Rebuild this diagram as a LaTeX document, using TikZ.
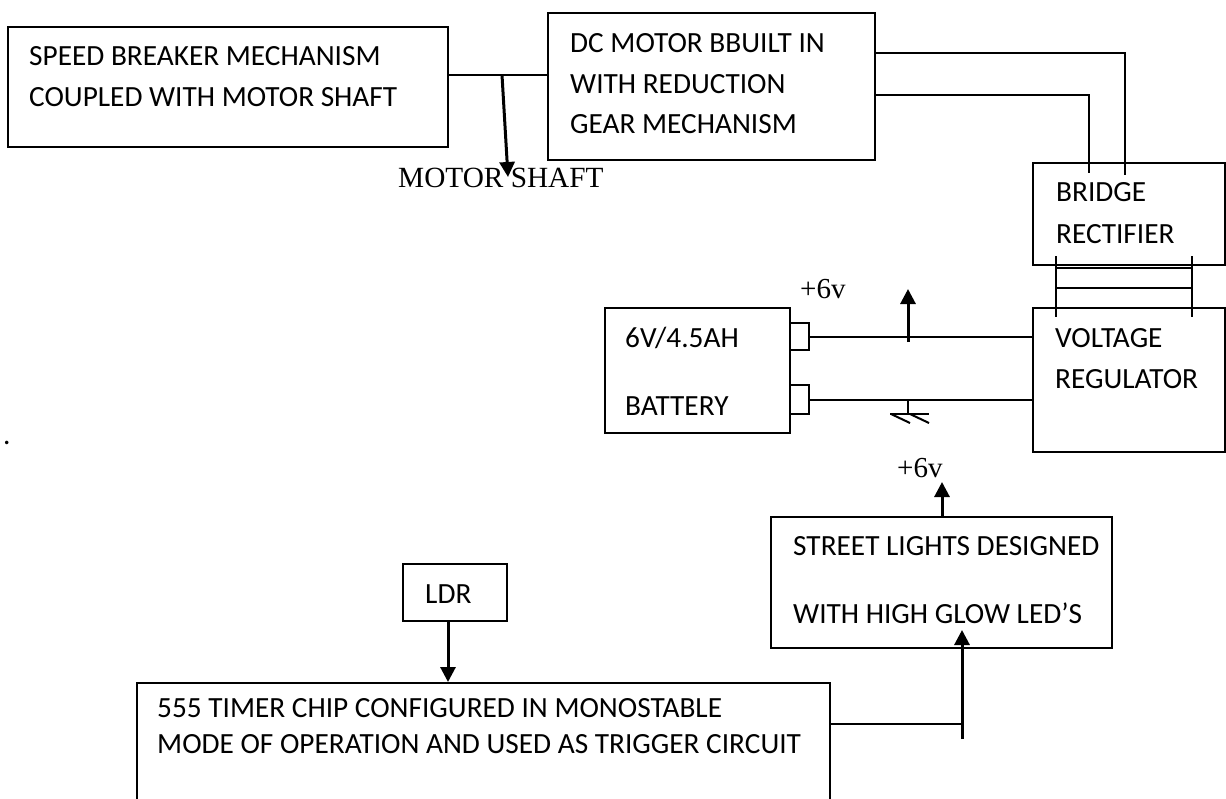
\documentclass[tikz,border=0pt]{standalone}
\usepackage{fontspec}
\setmainfont{Carlito}
\newfontfamily\timesfont{Liberation Serif}
\usetikzlibrary{arrows.meta,calc}

\begin{document}
\begin{tikzpicture}[x=1pt,y=-1pt,
  blk/.style={draw,line width=2pt,inner sep=0pt,rectangle},
  lbl/.style={anchor=base west,inner sep=0pt,font=\fontsize{29.3}{35}\selectfont},
  vlbl/.style={anchor=base west,inner sep=0pt,font=\timesfont\fontsize{29}{32}\selectfont},
  wire/.style={line width=2pt},
  sig/.style={line width=3pt,-{Triangle[width=15pt,length=15pt]}}]
  \useasboundingbox (0,0) rectangle (1226,798);
  \clip (0,0) rectangle (1226,798);

  % Speed breaker and motor
  \node[blk,minimum width=440pt,minimum height=120pt] (brk) at (228,87) {};
  \node[lbl] (brk1) at (29,65) {SPEED BREAKER MECHANISM};
  \node[lbl] (brk2) at (29,106) {COUPLED WITH MOTOR SHAFT};
  \node[blk,minimum width=327pt,minimum height=147pt] (motor) at (711.5,86.5) {};
  \node[lbl] (motor1) at (570,52) {DC MOTOR BBUILT IN};
  \node[lbl] (motor2) at (570,93) {WITH REDUCTION};
  \node[lbl] (motor3) at (570,133) {GEAR MECHANISM};

  % Shaft
  \node[vlbl,font=\timesfont\fontsize{29.3}{32}\selectfont] (shaft) at (398,187) {MOTOR SHAFT};
  \coordinate (shj) at (502,75);
  \coordinate (sht) at (508,177);
  \draw[wire] (brk.east |- shj) -- (motor.west |- shj);
  \draw[sig] (shj) -- (sht);

  % Rectifier and regulator
  \node[blk,minimum width=192pt,minimum height=102pt] (rect) at (1129,214) {};
  \node[lbl] (rect1) at (1056,201) {BRIDGE};
  \node[lbl] (rect2) at (1056,243) {RECTIFIER};
  \node[blk,minimum width=192pt,minimum height=144pt] (reg) at (1129,380) {};
  \node[lbl] (reg1) at (1055,347) {VOLTAGE};
  \node[lbl] (reg2) at (1055,388) {REGULATOR};

  \coordinate (ra) at (1125,175);
  \coordinate (rb) at (1089,173);
  \draw[wire] (motor.east |- 0,53) -| (ra);
  \draw[wire] (motor.east |- 0,95) -| (rb);
  \foreach \x in {1056,1192}
    \draw[wire] (rect.south -| \x,0) ++(0,-10) -- (reg.north -| \x,0) -- ++(0,10);
  \draw[wire] (1056,268) -- (1192,268);
  \draw[wire] (1056,288) -- (1192,288);

  % Battery
  \node[blk,minimum width=185pt,minimum height=125pt] (batt) at (697.5,370.5) {};
  \node[lbl] (batt1) at (625,347) {6V/4.5AH};
  \node[lbl] (batt2) at (625,415) {BATTERY};
  \node[blk,minimum width=19pt,minimum height=27pt] (t1) at (799.5,336.5) {};
  \node[blk,minimum width=19pt,minimum height=29pt] (t2) at (799.5,399.5) {};
  \draw[wire] (t1.east) -- (t1.east -| reg.west);
  \draw[wire] (t2.east) -- (t2.east -| reg.west);

  % +6v tap and ground
  \node[vlbl] (vcc1) at (800,298) {+6v};
  \coordinate (vtap) at (908,342);
  \coordinate (vtop) at (908,289);
  \draw[sig] (vtap) -- (vtop);
  \coordinate (gnd) at (908,414);
  \draw[wire] (t2.east -| gnd) -- (gnd);
  \draw[wire] ([xshift=-18pt]gnd) -- ([xshift=21pt]gnd);
  \draw[wire] ($(gnd)+(-17,0)$) -- ($(gnd)+(2,9)$);
  \draw[wire] ($(gnd)+(2,0)$) -- ($(gnd)+(21,9)$);

  % Street lights
  \node[blk,minimum width=341pt,minimum height=131pt] (street) at (941.5,582.5) {};
  \node[lbl] (street1) at (793,555) {STREET LIGHTS DESIGNED};
  \node[lbl] (street2) at (793,623) {WITH HIGH GLOW LED’S};
  \node[vlbl] (vcc2) at (897,477) {+6v};
  \draw[sig] (street.north -| 942,0) -- ++(0,-34);

  % LDR and timer
  \node[blk,minimum width=104pt,minimum height=57pt] (ldr) at (455,592.5) {};
  \node[lbl] (ldr1) at (425,603) {LDR};
  \node[blk,minimum width=693pt,minimum height=130pt] (timer) at (483.5,748) {};
  \node[lbl] (timer1) at (157,717) {555 TIMER CHIP CONFIGURED IN MONOSTABLE};
  \node[lbl] (timer2) at (157,753) {MODE OF OPERATION AND USED AS TRIGGER CIRCUIT};
  \draw[sig] (ldr.south -| 448,0) -- (timer.north -| 448,0);
  \coordinate (tj) at (962,724);
  \coordinate (tb) at (962,739);
  \coordinate (tt) at (962,630);
  \draw[wire] (timer.east |- tj) -- (tj);
  \draw[sig] (tb) -- (tt);

  \node[lbl] (dot) at (3,444) {.};
\end{tikzpicture}
\end{document}
